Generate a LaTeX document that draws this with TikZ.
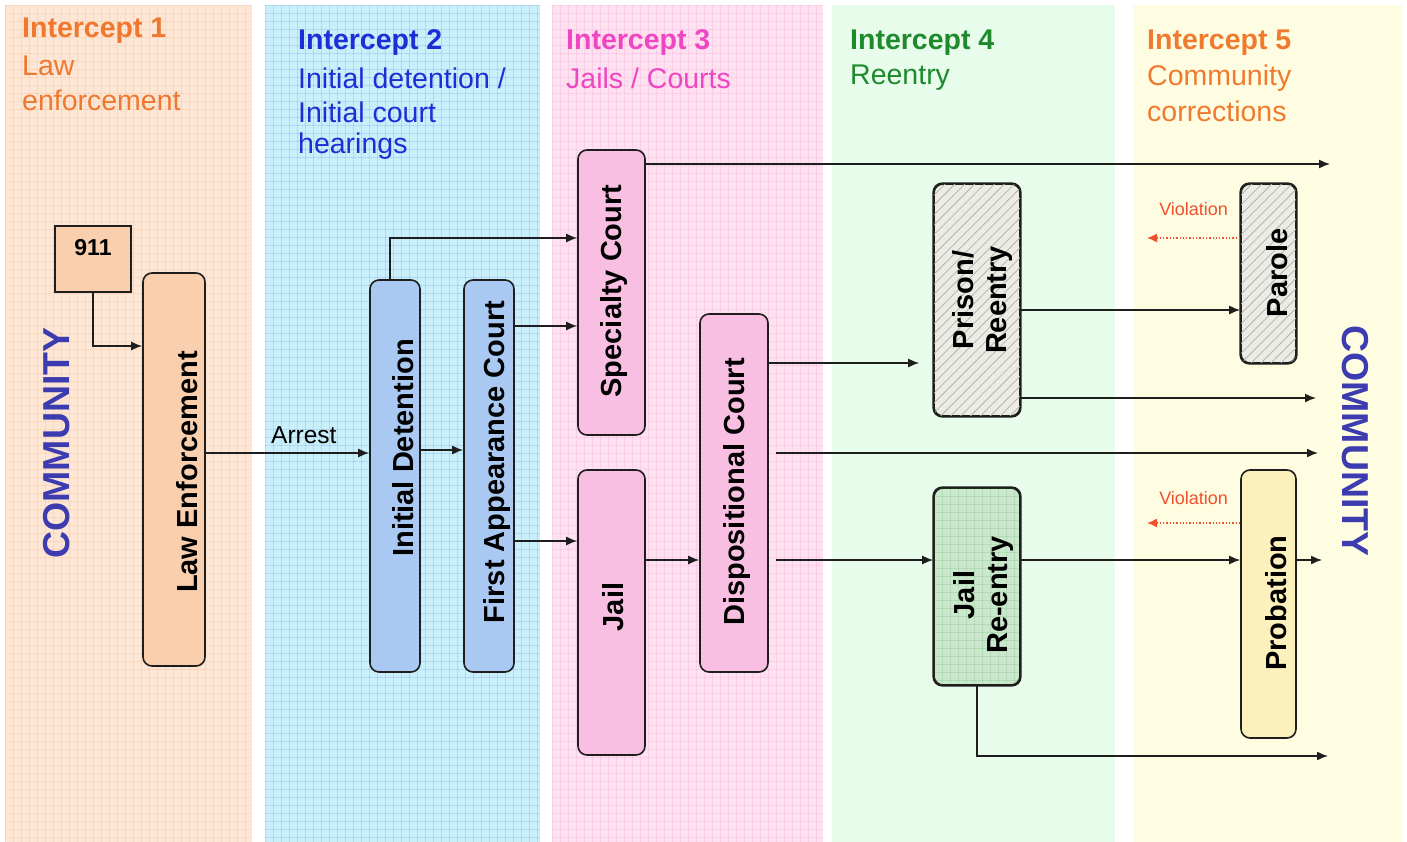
\documentclass[tikz,border=0pt]{standalone}
\usepackage{fontspec}
\setmainfont{Liberation Sans}
\usetikzlibrary{arrows.meta,patterns.meta}
\definecolor{cOne}{HTML}{FDE6D4}
\definecolor{cTwo}{HTML}{C9F0FA}
\definecolor{cThree}{HTML}{FDE1EF}
\definecolor{cFour}{HTML}{E8FCEB}
\definecolor{cFive}{HTML}{FEFDE2}
\definecolor{tOne}{HTML}{F0782E}
\definecolor{tTwo}{HTML}{1C2ED6}
\definecolor{tThree}{HTML}{EE46C2}
\definecolor{tFour}{HTML}{1E8A2C}
\definecolor{tFive}{HTML}{F07A2E}
\definecolor{commc}{HTML}{3C3CB0}
\definecolor{fLaw}{HTML}{F9CFAE}
\definecolor{fBlue}{HTML}{A9C9F2}
\definecolor{fPink}{HTML}{F9BFE2}
\definecolor{fGreen}{HTML}{CBE8CC}
\definecolor{fYellow}{HTML}{FCF1BC}
\definecolor{fGrey}{HTML}{ECECE4}
\definecolor{lineC}{HTML}{1E1E1E}
\definecolor{violC}{HTML}{F0502E}
\tikzset{
  gridl/.style={line width=0.5pt,opacity=0.12},
  hdrb/.style={anchor=west,font=\fontsize{28.5}{32}\selectfont\bfseries,inner sep=0pt},
  hdr/.style={anchor=west,font=\fontsize{28.5}{32}\selectfont,inner sep=0pt},
  boxr/.style={draw=lineC,line width=1.6pt,rounded corners=9pt},
  lbl/.style={rotate=90,font=\fontsize{29}{33}\selectfont\bfseries,text=black,inner sep=0pt,align=center},
  conn/.style={draw=lineC,line width=1.5pt,-{Latex[length=11pt,width=9pt]}},
  viol/.style={draw=violC,line width=1.3pt,dotted,-{Latex[length=10pt,width=9pt]}},
  comm/.style={font=\fontsize{37.5}{40}\selectfont\bfseries,text=commc,inner sep=0pt},
  hatch/.style={pattern={Lines[angle=45,distance=7pt,line width=0.8pt]},pattern color=black!30},
  vtext/.style={font=\fontsize{18}{20}\selectfont,text=violC,inner sep=0pt},
}
\begin{document}
\begin{tikzpicture}[x=1pt,y=-1pt]
\useasboundingbox (0,0) rectangle (1407,842);
% columns
\fill[cOne]   (5,5) rectangle (252,842);
\fill[cTwo]   (265,5) rectangle (540,842);
\fill[cThree] (552,5) rectangle (823,842);
\fill[cFour]  (832,5) rectangle (1115,842);
\fill[cFive]  (1133,5) rectangle (1402,842);
\foreach \a/\b/\c in {5/252/tOne,265/540/tTwo,552/823/tThree}{
  \begin{scope}
    \clip (\a,5) rectangle (\b,842);
    \foreach \x in {0,8,...,280}{\draw[gridl,color=\c] (\a+\x,5) -- (\a+\x,842);}
    \foreach \y in {5,13,...,842}{\draw[gridl,color=\c] (\a,\y) -- (\b,\y);}
  \end{scope}
}
% headers
\node[hdrb,text=tOne] (h1a) at (22,31) {Intercept 1};
\node[hdr,text=tOne] (h1b) at (22,66) {Law};
\node[hdr,text=tOne] (h1c) at (22,100) {enforcement};
\node[hdrb,text=tTwo] (h2a) at (298,43) {Intercept 2};
\node[hdr,text=tTwo] (h2b) at (298,78) {Initial detention /};
\node[hdr,text=tTwo] (h2c) at (298,112) {Initial court};
\node[hdr,text=tTwo] (h2d) at (298,146) {hearings};
\node[hdrb,text=tThree] (h3a) at (566,43) {Intercept 3};
\node[hdr,text=tThree] (h3b) at (566,78) {Jails / Courts};
\node[hdrb,text=tFour] (h4a) at (850,43) {Intercept 4};
\node[hdr,text=tFour] (h4b) at (850,78) {Reentry};
\node[hdrb,text=tFive] (h5a) at (1147,43) {Intercept 5};
\node[hdr,text=tFive] (h5b) at (1147,78) {Community};
\node[hdr,text=tFive] (h5c) at (1147,111) {corrections};
% community labels
\node[comm,rotate=90] (commL) at (57,443) {COMMUNITY};
\node[comm,rotate=-90] (commR) at (1355,441) {COMMUNITY};
% boxes
\draw[draw=lineC,line width=1.6pt,fill=fLaw] (55,226) rectangle (131,292);
\node[font=\fontsize{23}{26}\selectfont\bfseries,inner sep=0pt] (n911) at (93,248) {911};
\coordinate (b911) at (93,292);
\node[boxr,fill=fLaw,minimum width=62pt,minimum height=393pt,inner sep=0pt] (law) at (174,469.5) {};
\node[lbl] at (187,472) {Law Enforcement};
\node[boxr,fill=fBlue,minimum width=50pt,minimum height=392pt,inner sep=0pt] (idet) at (395,476) {};
\node[lbl] at (403,448) {Initial Detention};
\node[boxr,fill=fBlue,minimum width=50pt,minimum height=392pt,inner sep=0pt] (fac) at (489,476) {};
\node[lbl] at (497,462) {First Appearance Court};
\node[boxr,fill=fPink,minimum width=67pt,minimum height=285pt,inner sep=0pt] (spec) at (611.5,292.5) {};
\node[lbl] at (614,291) {Specialty Court};
\node[boxr,fill=fPink,minimum width=67pt,minimum height=285pt,inner sep=0pt] (jail) at (611.5,612.5) {};
\node[lbl] at (613,607) {Jail};
\node[boxr,fill=fPink,minimum width=68pt,minimum height=358pt,inner sep=0pt] (disp) at (734,493) {};
\node[lbl] at (737,492) {Dispositional Court};
\node[boxr,fill=fGrey,minimum width=86pt,minimum height=232pt,inner sep=0pt] (prison) at (977,300) {};
\fill[hatch,rounded corners=9pt] (prison.south west) rectangle (prison.north east);
\draw[boxr] (prison.south west) rectangle (prison.north east);
\node[lbl] at (982,300) {Prison/\\Reentry};
\node[boxr,fill=fGreen,minimum width=86pt,minimum height=197pt,inner sep=0pt] (jre) at (977,586.5) {};
\begin{scope}
  \clip[rounded corners=9pt] (jre.south west) rectangle (jre.north east);
  \foreach \x in {934,942,...,1020}{\draw[gridl,color=tFour] (\x,488) -- (\x,685);}
  \foreach \y in {488,496,...,685}{\draw[gridl,color=tFour] (934,\y) -- (1020,\y);}
\end{scope}
\draw[boxr] (jre.south west) rectangle (jre.north east);
\node[lbl] at (983,595) {Jail\\Re-entry};
\node[boxr,fill=fGrey,minimum width=55pt,minimum height=179pt,inner sep=0pt] (parole) at (1268.5,273.5) {};
\fill[hatch,rounded corners=9pt] (parole.south west) rectangle (parole.north east);
\draw[boxr] (parole.south west) rectangle (parole.north east);
\node[lbl] at (1277,273) {Parole};
\node[boxr,fill=fYellow,minimum width=55pt,minimum height=268pt,inner sep=0pt] (prob) at (1268.5,604) {};
\node[lbl] at (1276,603) {Probation};
% free ends
\coordinate (eSpec) at (1330,164);
\coordinate (eDisp) at (1318,453);
\coordinate (ePris) at (1316,398);
\coordinate (eProb) at (1322,560);
\coordinate (eJre) at (1328,756);
\coordinate (v1) at (1147,238);
\coordinate (v2) at (1147,523);
% connectors
\draw[conn] (b911) |- (law.west |- 0,346);
\draw[conn] (law.east |- 0,453) -- node[above=9pt,pos=0.6,font=\fontsize{24.5}{26}\selectfont,text=black,inner sep=0pt] (arrest) {Arrest} (idet.west |- 0,453);
\draw[conn] (idet.north -| 390,0) |- (spec.west |- 0,238);
\draw[conn] (idet.east |- 0,450) -- (fac.west |- 0,450);
\draw[conn] (fac.east |- 0,326) -- (spec.west |- 0,326);
\draw[conn] (fac.east |- 0,541) -- (jail.west |- 0,541);
\draw[conn] (jail.east |- 0,560) -- (disp.west |- 0,560);
\draw[conn] (spec.east |- 0,164) -- (eSpec);
\draw[conn] (disp.east |- 0,363) -- ([xshift=-14pt]prison.west |- 0,363);
\draw[conn] ([xshift=7pt]disp.east |- 0,453) -- (eDisp);
\draw[conn] ([xshift=7pt]disp.east |- 0,560) -- (jre.west |- 0,560);
\draw[conn] (prison.east |- 0,310) -- (parole.west |- 0,310);
\draw[conn] (prison.east |- 0,398) -- (ePris);
\draw[conn] (jre.east |- 0,560) -- (prob.west |- 0,560);
\draw[conn] (prob.east |- 0,560) -- (eProb);
\draw[conn] (jre.south) |- (eJre);
\draw[viol] (parole.west |- 0,238) -- node[above=22pt,vtext] (vl1) {Violation} (v1);
\draw[viol] (prob.west |- 0,523) -- node[above=18pt,vtext] (vl2) {Violation} (v2);
\end{tikzpicture}
\end{document}
